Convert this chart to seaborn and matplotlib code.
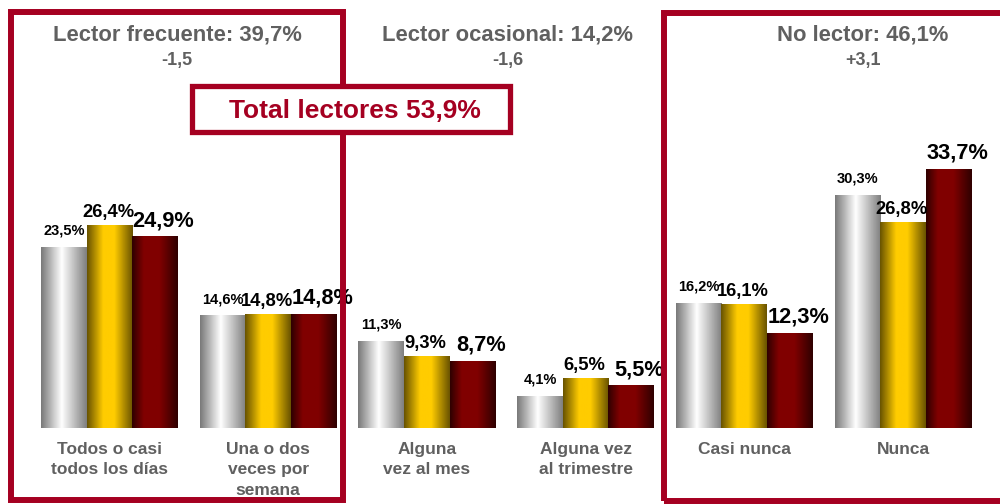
import numpy as np
import pandas as pd
import seaborn as sns
import matplotlib.pyplot as plt
from matplotlib.colors import LinearSegmentedColormap
from matplotlib.patches import Rectangle

categorias = ["Todos o casi\ntodos los días", "Una o dos\nveces por\nsemana",
              "Alguna\nvez al mes", "Alguna vez\nal trimestre", "Casi nunca", "Nunca"]
series = ["s1", "s2", "s3"]
valores_s1 = [23.5, 14.6, 11.3, 4.1, 16.2, 30.3]
valores_s2 = [26.4, 14.8, 9.3, 6.5, 16.1, 26.8]
valores_s3 = [24.9, 14.8, 8.7, 5.5, 12.3, 33.7]

titulos = ["Lector frecuente: 39,7%", "Lector ocasional: 14,2%", "No lector: 46,1%"]
variaciones = ["-1,5", "-1,6", "+3,1"]
total_txt = "Total lectores 53,9%"

rojo = "#a50021"
gris_txt = "#606060"

df = pd.DataFrame({
    "cat": categorias * 3,
    "serie": np.repeat(series, len(categorias)),
    "val": valores_s1 + valores_s2 + valores_s3,
})

sns.set_style("white")
plt.rcParams['font.family'] = ['Liberation Sans', 'DejaVu Sans']

fig = plt.figure(figsize=(10, 5.04), dpi=100)
ax = fig.add_axes([0, 0.1508, 1, 0.6099])

g = sns.barplot(data=df, x="cat", y="val", hue="serie", width=0.863, gap=0,
                palette=["#c0c0c0", "#ffcc00", "#800000"], saturation=1,
                legend=False, ax=ax)

cmaps = [
    LinearSegmentedColormap.from_list("gris", [(0, "#7a7a7a"), (0.45, "#ffffff"), (1, "#808080")]),
    LinearSegmentedColormap.from_list("oro", [(0, "#6a5400"), (0.35, "#ffcc00"), (0.6, "#ffcc00"), (1, "#6a5400")]),
    LinearSegmentedColormap.from_list("gran", [(0, "#300000"), (0.25, "#800000"), (0.6, "#800000"), (1, "#300000")]),
]
grad = np.linspace(0, 1, 64).reshape(1, -1)

# tamaño / desplazamiento de etiquetas por serie
lab_size = [10.5, 13.2, 15.7]
lab_dx = [0, -1, 6]
lab_dy = [7, 3, 4]

for i, cont in enumerate(g.containers):
    for bar in cont:
        x0, w, h = bar.get_x(), bar.get_width(), bar.get_height()
        ax.imshow(grad, extent=[x0, x0 + w, 0, h], aspect="auto", cmap=cmaps[i], zorder=2)
        bar.set_facecolor("none")
        bar.set_edgecolor("none")
        txt = f"{h:.1f}".replace(".", ",") + "%"
        ax.annotate(txt, xy=(x0 + w / 2, h), xytext=(lab_dx[i], lab_dy[i]),
                    textcoords="offset points", ha="center", va="bottom",
                    fontsize=lab_size[i], fontweight="bold", color="black", zorder=5)

ax.set_xlim(-0.69, 5.611)
ax.set_ylim(0, 40)
ax.set_xlabel("")
ax.set_ylabel("")
ax.set_yticks([])
sns.despine(ax=ax, left=True, bottom=True)
ax.tick_params(axis="x", length=0, pad=10)
for t in ax.get_xticklabels():
    t.set_fontsize(12.5)
    t.set_fontweight("bold")
    t.set_color(gris_txt)
    t.set_linespacing(1.45)

# recuadros
fig.patches.append(Rectangle((11 / 1000, 1 - 500 / 504), 332 / 1000, 488 / 504,
                             transform=fig.transFigure, fill=False, ec=rojo, lw=4.3, zorder=0))
fig.patches.append(Rectangle((664 / 1000, 1 - 501 / 504), 340 / 1000, 488 / 504,
                             transform=fig.transFigure, fill=False, ec=rojo, lw=4.3, zorder=0))
fig.patches.append(Rectangle((192 / 1000, 1 - 132 / 504), 318 / 1000, 46 / 504,
                             transform=fig.transFigure, fc="white", ec=rojo, lw=3.8, zorder=1))

centros = [177, 508, 863]
for cx, tt, vv in zip(centros, titulos, variaciones):
    fig.text(cx / 1000, 1 - 34.5 / 504, tt, ha="center", va="center",
             fontsize=15.8, fontweight="bold", color=gris_txt)
    fig.text(cx / 1000, 1 - 61 / 504, vv, ha="center", va="center",
             fontsize=13, fontweight="bold", color=gris_txt)

fig.text(355 / 1000, 1 - 111 / 504, total_txt, ha="center", va="center",
         fontsize=19, fontweight="bold", color=rojo, zorder=3)

fig.savefig("out.png", dpi=100)
